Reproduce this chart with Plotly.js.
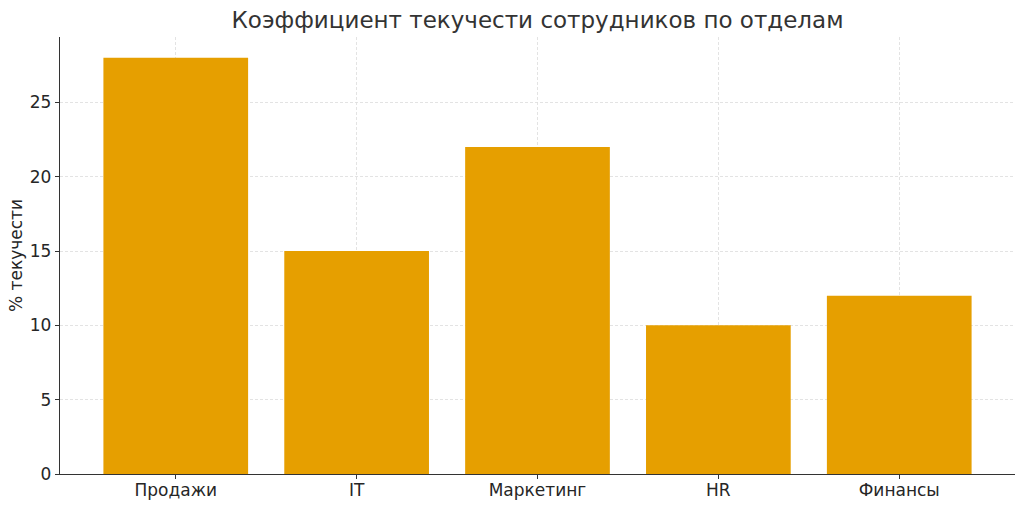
<!DOCTYPE html>
<html>
<head>
<meta charset="utf-8">
<script src="https://cdn.plot.ly/plotly-3.0.1.min.js"></script>
<style>html,body{margin:0;padding:0;background:#fff;}#chart{width:1024px;height:507px;}</style>
</head>
<body>
<div id="chart"></div>
<script>
const departments = ["Продажи", "IT", "Маркетинг", "HR", "Финансы"];
const turnoverPct = [28, 15, 22, 10, 12];
const yTicks = [0, 5, 10, 15, 20, 25];

const font = "DejaVu Sans, sans-serif";
const trace = {
  type: "bar",
  x: departments.map((_, i) => i),
  y: turnoverPct,
  width: 0.8,
  marker: {color: "#E69F00", line: {width: 0}},
  hoverinfo: "x+y"
};
const layout = {
  width: 1024, height: 507,
  margin: {l: 60, r: 9, t: 37, b: 33},
  paper_bgcolor: "#fff", plot_bgcolor: "#fff",
  title: {text: "Коэффициент текучести сотрудников по отделам", font: {family: font, size: 23, color: "#333"}, x: 0.5, xref: "paper", y: 0.96, yanchor: "middle"},
  showlegend: false,
  xaxis: {
    range: [-0.64, 4.64], tickvals: departments.map((_, i) => i), ticktext: departments,
    showline: true, linecolor: "#333", linewidth: 1.2,
    ticks: "outside", ticklen: 4, tickcolor: "#333", ticklabelstandoff: -4,
    showgrid: true, gridcolor: "#dcdcdc", griddash: "3px,2px", gridwidth: 0.8,
    zeroline: false, tickfont: {family: font, size: 17, color: "#262626"}
  },
  yaxis: {
    range: [0, 29.4], tickvals: yTicks,
    showline: true, linecolor: "#333", linewidth: 1.2,
    ticks: "outside", ticklen: 4, tickcolor: "#333",
    showgrid: true, gridcolor: "#dcdcdc", griddash: "3px,2px", gridwidth: 0.8,
    zeroline: false, tickfont: {family: font, size: 17, color: "#262626"},
    title: {text: "% текучести", font: {family: font, size: 17, color: "#262626"}, standoff: 2}
  }
};
Plotly.newPlot("chart", [trace], layout, {displayModeBar: false, staticPlot: true});
</script>
</body>
</html>
